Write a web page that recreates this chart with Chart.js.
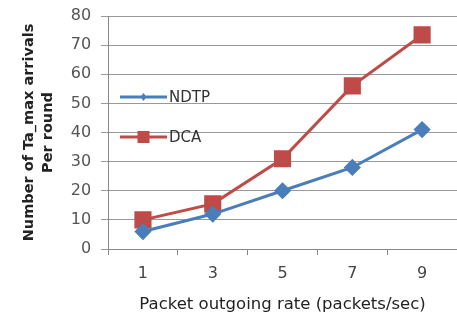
<!DOCTYPE html>
<html><head><meta charset="utf-8">
<script src="https://cdn.jsdelivr.net/npm/chart.js@4"></script>
<style>html,body{margin:0;padding:0;background:#fff;overflow:hidden}#w{width:457px;height:321px}</style>
</head><body><div id="w"><canvas id="c"></canvas></div>
<script>
const categories = ['1','3','5','7','9'];
const ndtp = [6, 12, 20, 28, 41];
const dca = [10, 15.5, 31, 56, 73.5];
const seriesNames = ['NDTP','DCA'];
const yTitle = ['Number of Ta_max arrivals','Per round'];
const xTitle = 'Packet outgoing rate (packets/sec)';

const insideLegend = {
  id:'insideLegend',
  afterDatasetsDraw(chart){
    const ctx = chart.ctx;
    const rows = [97, 137];
    chart.data.datasets.forEach((ds,i)=>{
      const y = rows[i];
      const x0 = 120, x1 = 167;
      ctx.save();
      ctx.strokeStyle = ds.borderColor; ctx.lineWidth = 3;
      ctx.beginPath(); ctx.moveTo(x0,y); ctx.lineTo(x1,y); ctx.stroke();
      ctx.fillStyle = ds.backgroundColor;
      const cx=(x0+x1)/2;
      if(ds.pointStyle==='rect'){ ctx.fillRect(cx-6,y-6,12,12); }
      else { ctx.beginPath(); ctx.moveTo(cx,y-4); ctx.lineTo(cx+3,y); ctx.lineTo(cx,y+4); ctx.lineTo(cx-3,y); ctx.closePath(); ctx.fill(); }
      ctx.fillStyle = '#333'; ctx.font = '15px "DejaVu Sans"'; ctx.textBaseline='middle'; ctx.textAlign='left';
      ctx.fillText(ds.label, 169, y+1);
      ctx.restore();
    });
  }
};

new Chart(document.getElementById('c'), {
  type:'line',
  data:{labels:categories, datasets:[
    {label:seriesNames[0], data:ndtp, borderColor:'#4A7EBB', backgroundColor:'#4A7EBB', borderWidth:3, pointStyle:'rectRot', pointRadius:6.5, pointHoverRadius:6.5, tension:0, clip:false},
    {label:seriesNames[1], data:dca, borderColor:'#BE4B48', backgroundColor:'#BE4B48', borderWidth:3, pointStyle:'rect', pointRadius:10, pointHoverRadius:10, tension:0, clip:false}
  ]},
  options:{
    responsive:true, maintainAspectRatio:false, animation:false,
    layout:{autoPadding:false, padding:{top:16,right:0,left:16,bottom:2}},
    plugins:{legend:{display:false}, tooltip:{enabled:false}},
    scales:{
      x:{offset:true,
        afterFit(s){ s.paddingRight = 0; s.paddingLeft = 0; },
        grid:{offset:true, drawOnChartArea:false, tickLength:6, color:'#888', lineWidth:1},
        border:{color:'#888'},
        ticks:{color:'#444', font:{family:'DejaVu Sans', size:16}, padding:9},
        title:{display:true, text:xTitle, color:'#222', font:{family:'DejaVu Sans', size:16.5}, padding:{top:3}}
      },
      y:{min:0,max:80,
        afterFit(s){ s.paddingTop = 0; },
        ticks:{stepSize:10, color:'#555', font:{family:'DejaVu Sans', size:16}, padding:10},
        grid:{color:'#999', tickLength:7, lineWidth:1},
        border:{color:'#888'},
        title:{display:true, text:yTitle, color:'#222', font:{family:'DejaVu Sans', size:14.5, weight:'bold', lineHeight:1.3}, padding:{bottom:3}}
      }
    }
  },
  plugins:[insideLegend]
});
</script></body></html>
